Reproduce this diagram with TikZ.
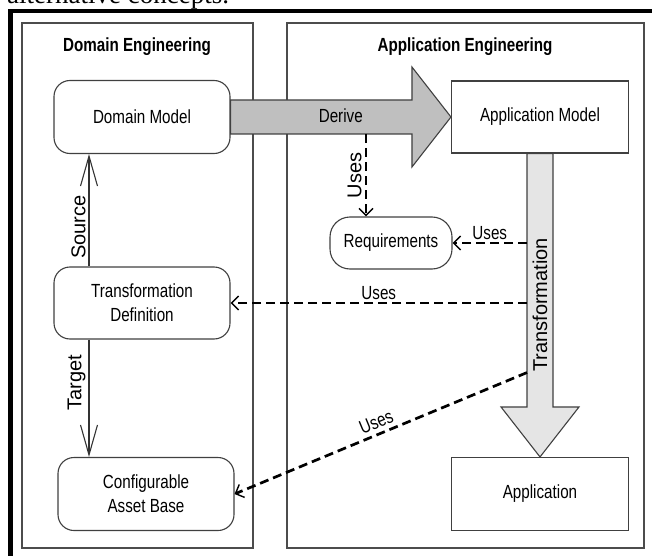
\documentclass[tikz,border=0pt]{standalone}
\usepackage{fontspec}
\setmainfont{Liberation Sans}[FakeStretch=0.8]
\newfontfamily\rotfont{Liberation Sans}
\newfontfamily\capfont{Liberation Serif}
\usetikzlibrary{arrows.meta, calc}

\tikzset{
  panel/.style={draw=black!70, line width=1.1pt},
  title/.style={font=\fontsize{19}{24}\selectfont\bfseries},
  roundbox/.style={draw=black!75, line width=1.1pt, fill=white, rounded corners=16pt,
    minimum width=176pt, minimum height=73pt, align=center, inner sep=0pt},
  plainbox/.style={draw=black!75, line width=1.1pt, fill=white,
    minimum width=177pt, minimum height=72pt, align=center, inner sep=0pt},
  bigarrow/.style={draw=black!75, line width=1.1pt},
  link/.style={line width=1.1pt, draw=black!80,
    -{Straight Barb[length=30pt, width=17pt, line width=1.1pt]}},
  uses/.style={line width=2.7pt, dash pattern=on 9pt off 5pt,
    -{Straight Barb[length=7pt, width=14pt, line width=1.4pt]}},
  uprot/.style={rotate=90, inner sep=3pt, font=\rotfont\fontsize{20}{22}\selectfont},
}

\begin{document}
\begin{tikzpicture}[x=1pt, y=-1pt, font=\fontsize{19}{24}\selectfont]
  \useasboundingbox (0,0) rectangle (652,556);
  \clip (0,0) rectangle (652,556);
  % line of text cut off by the top of the page
  \node[anchor=base west, inner sep=0pt, font=\capfont\fontsize{27}{30}\selectfont]
    (caption) at (7,3.5) {alternative concepts.};
  \fill (8,9) rectangle (652,13);
  \fill (8,9) rectangle (13,556);

  % the two panels
  \draw[panel] (22,23) rectangle (253,548);
  \draw[panel] (287,23) rectangle (644,548);
  \node[title] (domtitle) at (137,47) {Domain Engineering};
  \node[title] (apptitle) at (465,47) {Application Engineering};

  % boxes
  \node[roundbox] (dommodel) at (142,117) {Domain Model};
  \node[roundbox, minimum height=72pt] (transdef) at (142,303) {Transformation\\Definition};
  \node[roundbox] (assetbase) at (146,494) {Configurable\\Asset Base};
  \node[plainbox] (appmodel) at (540,117) {Application Model};
  \node[plainbox, minimum height=73pt] (application) at (540,494) {Application};
  \node[roundbox, rounded corners=20pt, minimum width=122pt, minimum height=52pt]
    (requirements) at (391,243) {Requirements};

  % derive arrow, shaft 34 high, head 100 high
  \coordinate (dshaft) at ($(dommodel.east)+(0,17)$);
  \draw[bigarrow, fill=black!25]
    ($(dommodel.east)+(0,-17)$) -- ($(appmodel.west)+(-39,-17)$)
    -- ($(appmodel.west)+(-39,-50)$) -- (appmodel.west)
    -- ($(appmodel.west)+(-39,50)$) -- ($(appmodel.west)+(-39,17)$)
    -- (dshaft) -- cycle;
  \node (derive) at ($(dommodel.east)!0.5!(appmodel.west)+(0,-1)$) {Derive};

  % transformation arrow
  \coordinate (tleft) at ($(appmodel.south)+(-13,0)$);
  \draw[bigarrow, fill=black!10]
    (tleft) -- ($(application.north)+(-13,-50)$)
    -- ($(application.north)+(-39,-50)$) -- (application.north)
    -- ($(application.north)+(39,-50)$) -- ($(application.north)+(13,-50)$)
    -- ($(appmodel.south)+(13,0)$) -- cycle;
  \node[uprot] (transf) at (540,305) {Transformation};

  % source / target
  \draw[link] ($(transdef.north)+(-53,0)$) -- ($(dommodel.south)+(-53,0)$)
    node[pos=0.35, uprot, above] {Source};
  \draw[link] ($(transdef.south)+(-53,0)$) -- ($(assetbase.north)+(-57,0)$)
    node[pos=0.37, uprot, above] {Target};

  % uses links
  \coordinate (usesA) at ($(requirements.north)+(-25,0)$);
  \draw[uses] (usesA |- dshaft) -- (usesA) node[midway, uprot, above] {Uses};
  \draw[uses] (tleft |- requirements.east) -- (requirements.east)
    node[midway, above, inner sep=2pt] {Uses};
  \draw[uses] (tleft |- transdef.east) -- (transdef.east)
    node[midway, above, inner sep=2pt] {Uses};
  \coordinate (tdiag) at ($(tleft)+(0,219)$);
  \draw[uses] (tdiag) -- (assetbase.east)
    node[midway, above, sloped, inner sep=4pt] {Uses};
\end{tikzpicture}
\end{document}
